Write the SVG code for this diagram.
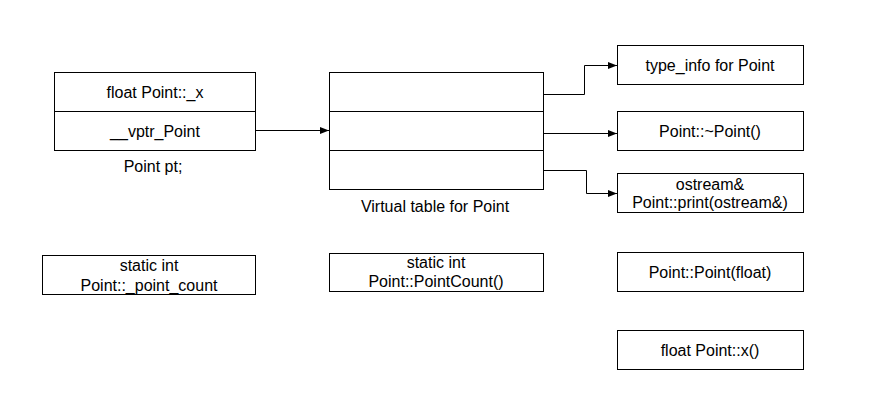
<svg xmlns="http://www.w3.org/2000/svg" width="881" height="415" viewBox="0 0 881 415">
<style>
.b{fill:#fff;stroke:#000;stroke-width:1}
.t{font-family:"Liberation Sans",Arial,sans-serif;font-size:16px;fill:#000;text-anchor:middle;dominant-baseline:central}
.c{fill:none;stroke:#000;stroke-width:1}
</style>
<defs>
<marker id="ah" markerWidth="10" markerHeight="8" refX="9" refY="4" orient="auto" markerUnits="userSpaceOnUse">
<path d="M0,0.5 L9,4 L0,7.5 Z" fill="#000"/>
</marker>
</defs>
<rect width="881" height="415" fill="#fff"/>
<g id="pt">
<rect class="b" x="54.5" y="72.5" width="201" height="78"/>
<line class="c" x1="54.5" y1="111.5" x2="255.5" y2="111.5"/>
<text class="t" x="155" y="92">float Point::_x</text>
<text class="t" x="155" y="131">__vptr_Point</text>
<text class="t" x="153" y="166">Point pt;</text>
</g>
<g id="vtable">
<rect class="b" x="329.5" y="72.5" width="214" height="117"/>
<line class="c" x1="329.5" y1="111.5" x2="543.5" y2="111.5"/>
<line class="c" x1="329.5" y1="150.5" x2="543.5" y2="150.5"/>
<text class="t" x="435" y="206">Virtual table for Point</text>
</g>
<g id="typeinfo">
<rect class="b" x="617.5" y="45.5" width="186" height="39"/>
<text class="t" x="710" y="65">type_info for Point</text>
</g>
<g id="dtor">
<rect class="b" x="617.5" y="111.5" width="186" height="39"/>
<text class="t" x="710" y="131">Point::~Point()</text>
</g>
<g id="print">
<rect class="b" x="617.5" y="173.5" width="186" height="39"/>
<text class="t" x="710" y="184">ostream&amp;</text>
<text class="t" x="710" y="202">Point::print(ostream&amp;)</text>
</g>
<g id="ctor">
<rect class="b" x="617.5" y="252.5" width="186" height="39"/>
<text class="t" x="710" y="272">Point::Point(float)</text>
</g>
<g id="getx">
<rect class="b" x="617.5" y="330.5" width="186" height="39"/>
<text class="t" x="710" y="350">float Point::x()</text>
</g>
<g id="pointcount">
<rect class="b" x="42.5" y="255.5" width="213" height="39"/>
<text class="t" x="149" y="265">static int</text>
<text class="t" x="149" y="285">Point::_point_count</text>
</g>
<g id="pointcountfn">
<rect class="b" x="329.5" y="253.5" width="214" height="38"/>
<text class="t" x="436" y="262">static int</text>
<text class="t" x="436" y="281">Point::PointCount()</text>
</g>
<g id="connectors">
<path class="c" d="M255.5,130.5 H329" marker-end="url(#ah)"/>
<path class="c" d="M543.5,94.5 H584.5 V65.5 H617" marker-end="url(#ah)"/>
<path class="c" d="M543.5,133.5 H617" marker-end="url(#ah)"/>
<path class="c" d="M543.5,170.5 H586.5 V193.5 H617" marker-end="url(#ah)"/>
</g>
</svg>
